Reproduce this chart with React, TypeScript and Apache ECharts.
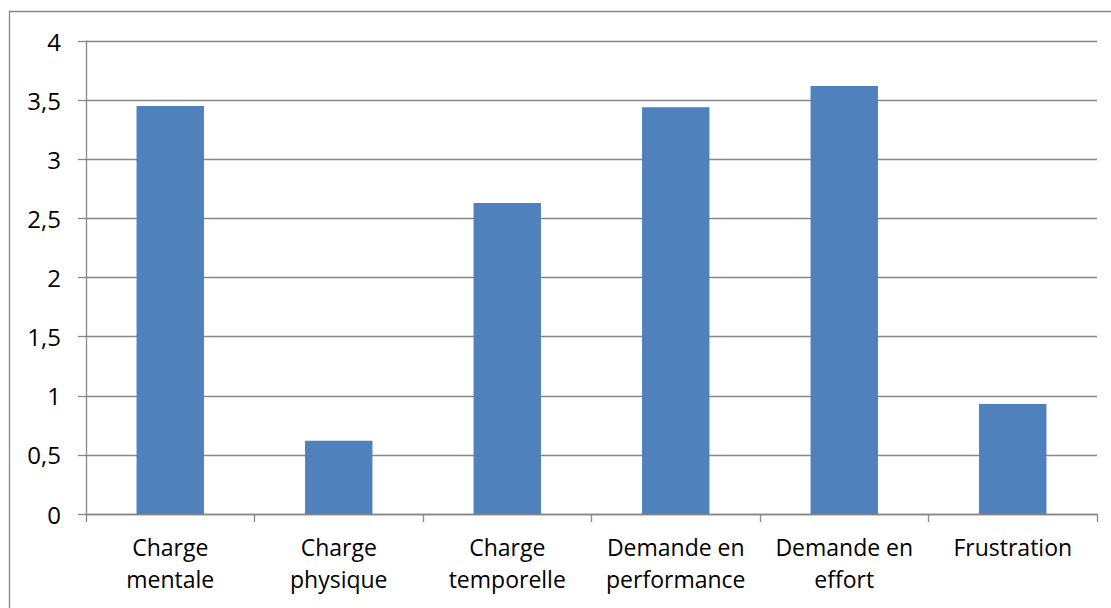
import React, { useEffect, useRef } from "react";
import * as echarts from "echarts";

const categories = [
  "Charge\nmentale",
  "Charge\nphysique",
  "Charge\ntemporelle",
  "Demande en\nperformance",
  "Demande en\neffort",
  "Frustration",
];
const values = [3.45, 0.62, 2.63, 3.44, 3.62, 0.93];
const yTicks = { min: 0, max: 4, interval: 0.5 };

const FONT = "'Open Sans', 'Noto Sans', sans-serif";
const GRAY = "#878787";

export default function App() {
  const ref = useRef<HTMLDivElement>(null);
  useEffect(() => {
    document.body.style.margin = "0";
    const chart = echarts.init(ref.current!, null, { renderer: "svg" });
    chart.setOption({
      animation: false,
      backgroundColor: "#ffffff",
      grid: { left: 86, right: 14, top: 41, bottom: 94, containLabel: false },
      graphic: [
        {
          type: "rect",
          shape: { x: 9.5, y: 11.5, width: 1200, height: 700 },
          style: { fill: "none", stroke: GRAY, lineWidth: 1.3 },
          silent: true,
        },
      ],
      xAxis: {
        type: "category",
        data: categories,
        axisLine: { show: true, lineStyle: { color: GRAY, width: 1.3 } },
        axisTick: { show: true, length: 8, alignWithLabel: false, lineStyle: { color: GRAY, width: 1.3 } },
        axisLabel: {
          color: "#000",
          fontFamily: FONT,
          fontSize: 23,
          lineHeight: 32,
          margin: 17,
          interval: 0,
        },
      },
      yAxis: {
        type: "value",
        min: yTicks.min,
        max: yTicks.max,
        interval: yTicks.interval,
        axisLine: { show: true, lineStyle: { color: GRAY, width: 1.3 } },
        axisTick: { show: true, length: 8, lineStyle: { color: GRAY, width: 1.3 } },
        splitLine: { show: true, lineStyle: { color: GRAY, width: 1.3 } },
        axisLabel: {
          color: "#000",
          fontFamily: FONT,
          fontSize: 24,
          margin: 25,
          formatter: (v: number) => String(v).replace(".", ","),
        },
      },
      series: [
        {
          type: "bar",
          data: values,
          barCategoryGap: "60%",
          itemStyle: { color: "#4F81BD" },
        },
      ],
    });
    return () => chart.dispose();
  }, []);
  return (
    <div
      ref={ref}
      style={{ position: "absolute", left: 0, top: 0, width: 1111, height: 608 }}
    />
  );
}
